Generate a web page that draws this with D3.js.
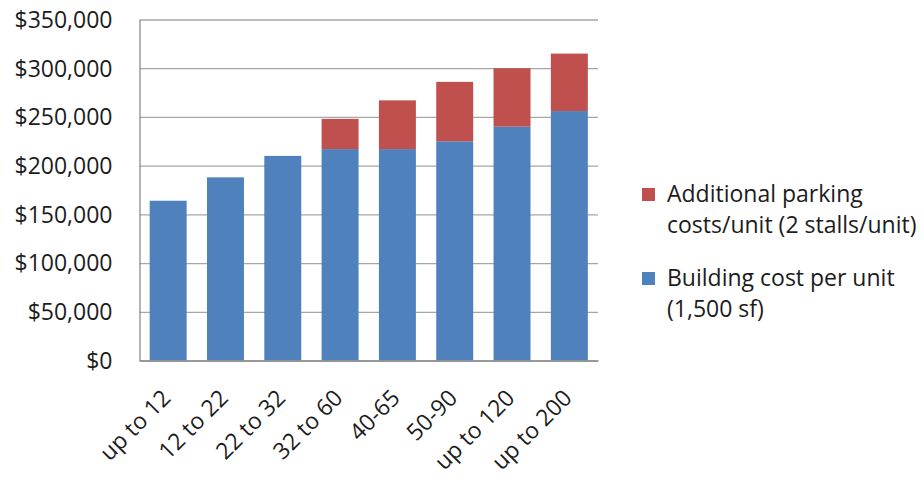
<!DOCTYPE html>
<html>
<head>
<meta charset="utf-8">
<script src="https://cdn.jsdelivr.net/npm/d3@7"></script>
<style>
  html, body { margin: 0; padding: 0; background: #fff; }
  svg { display: block; }
  text { font-family: "Open Sans", "Liberation Sans", sans-serif; fill: #1c1c1c; }
</style>
</head>
<body>
<svg id="chart" width="924" height="480"></svg>
<script>
const categories = ["up to 12", "12 to 22", "22 to 32", "32 to 60", "40-65", "50-90", "up to 120", "up to 200"];
const buildingCost = [164000, 188000, 210000, 217000, 217000, 225000, 240000, 256000];
const parkingCost = [0, 0, 0, 31000, 50000, 61000, 60000, 59000];
const yTicks = [0, 50000, 100000, 150000, 200000, 250000, 300000, 350000];
const seriesColors = ["#4F81BD", "#C0504D"];
const legendLines = [
  ["Additional parking", "costs/unit (2 stalls/unit)"],
  ["Building cost per unit", "(1,500 sf)"]
];

const svg = d3.select("#chart");
const mLeft = 139.5, mRight = 598, mTop = 19.5, mBottom = 360.5;

const x = d3.scaleBand().domain(categories).range([mLeft, mRight])
  .paddingInner(0.355).paddingOuter(0.1775);
const y = d3.scaleLinear().domain([0, 350000]).range([mBottom, mTop]);

// gridlines
svg.append("g")
  .attr("transform", `translate(${mLeft},0)`)
  .call(d3.axisLeft(y).tickValues(yTicks).tickSize(-(mRight - mLeft)).tickFormat(""))
  .call(g => g.select(".domain").remove())
  .call(g => g.selectAll("line").attr("stroke", "#a6a6a6").attr("stroke-width", 1.3));

// stacked bars
const rows = categories.map((c, i) => ({ cat: c, building: buildingCost[i], parking: parkingCost[i] }));
const stack = d3.stack().keys(["building", "parking"])(rows);
svg.append("g").selectAll("g").data(stack).join("g")
  .attr("fill", (d, i) => seriesColors[i])
  .selectAll("rect").data(d => d.filter(s => s[1] > s[0])).join("rect")
  .attr("x", d => x(d.data.cat))
  .attr("width", x.bandwidth())
  .attr("y", d => y(d[1]))
  .attr("height", d => y(d[0]) - y(d[1]));

// y axis
const yAxis = svg.append("g")
  .attr("transform", `translate(${mLeft},0)`)
  .call(d3.axisLeft(y).tickValues(yTicks).tickSize(0).tickPadding(27).tickFormat(d3.format("$,")));
yAxis.select(".domain").attr("stroke", "#8c8c8c").attr("stroke-width", 1.3);
yAxis.selectAll("text").attr("font-size", 23).attr("dy", "0.34em")
  .style("font-family", '"Open Sans", sans-serif').attr("fill", "#1c1c1c");

// x axis
const xAxis = svg.append("g")
  .attr("transform", `translate(0,${mBottom})`)
  .call(d3.axisBottom(x).tickSize(0).tickFormat(d => d));
xAxis.select(".domain").attr("stroke", "#8c8c8c").attr("stroke-width", 1.3);
xAxis.selectAll("text")
  .attr("font-size", 23)
  .style("font-family", '"Open Sans", sans-serif')
  .attr("fill", "#1c1c1c")
  .attr("text-anchor", "end")
  .attr("dy", 0)
  .attr("y", 0)
  .attr("transform", "translate(4,39) rotate(-45)");

// legend
const legend = svg.append("g");
const legendColors = [seriesColors[1], seriesColors[0]];
const legendY = [188, 272];
legendLines.forEach((lines, i) => {
  legend.append("rect").attr("x", 642).attr("y", legendY[i]).attr("width", 13).attr("height", 13)
    .attr("fill", legendColors[i]);
  const t = legend.append("text").attr("x", 667).attr("y", legendY[i] + 13.5).attr("font-size", 23);
  lines.forEach((ln, j) => {
    t.append("tspan").attr("x", 667).attr("dy", j === 0 ? 0 : 31.7).text(ln);
  });
});
</script>
</body>
</html>
